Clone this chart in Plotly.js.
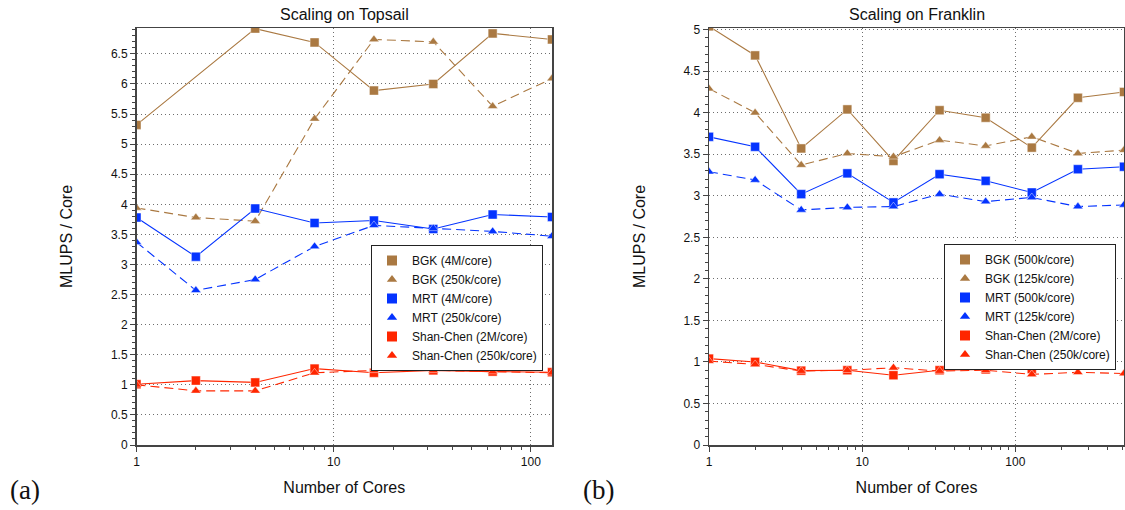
<!DOCTYPE html>
<html>
<head>
<meta charset="utf-8">
<script src="https://cdn.plot.ly/plotly-3.0.1.min.js"></script>
<style>
  html, body { margin: 0; padding: 0; background: #fff; }
  #chart { width: 1125px; height: 510px; }
</style>
</head>
<body>
<div id="chart"></div>
<script>
// ---- Topsail (panel a) ----
const coresTopsail = [1, 2, 4, 8, 16, 32, 64, 128];
const bgk4M       = [5.32, null, 6.92, 6.69, 5.89, 6.00, 6.84, 6.74];
const bgk250kA    = [3.94, 3.78, 3.72, 5.42, 6.74, 6.70, 5.63, 6.09];
const mrt4M       = [3.78, 3.13, 3.93, 3.69, 3.73, 3.59, 3.83, 3.79];
const mrt250kA    = [3.37, 2.57, 2.75, 3.30, 3.65, 3.60, 3.55, 3.47];
const shanChen2MA = [1.01, 1.07, 1.04, 1.27, 1.20, 1.24, 1.22, 1.21];
const shanChen250kA = [1.00, 0.90, 0.90, 1.20, 1.24, 1.24, 1.22, 1.20];
const legendTopsail = ['BGK (4M/core)', 'BGK (250k/core)', 'MRT (4M/core)',
                       'MRT (250k/core)', 'Shan-Chen (2M/core)', 'Shan-Chen (250k/core)'];

// ---- Franklin (panel b) ----
const coresFranklin = [1, 2, 4, 8, 16, 32, 64, 128, 256, 512];
const bgk500k     = [5.04, 4.69, 3.57, 4.04, 3.42, 4.03, 3.94, 3.58, 4.18, 4.25];
const bgk125k     = [4.29, 4.00, 3.37, 3.51, 3.47, 3.67, 3.60, 3.71, 3.51, 3.55];
const mrt500k     = [3.71, 3.59, 3.02, 3.27, 2.92, 3.26, 3.18, 3.04, 3.32, 3.35];
const mrt125k     = [3.29, 3.19, 2.83, 2.86, 2.87, 3.02, 2.93, 2.98, 2.87, 2.89];
const shanChen2MB = [1.04, 1.00, 0.895, 0.90, 0.84, 0.90, 0.91, 0.915, null, null];
const shanChen250kB = [1.01, 0.97, 0.89, 0.90, 0.93, 0.89, 0.90, 0.85, 0.875, 0.86];
const legendFranklin = ['BGK (500k/core)', 'BGK (125k/core)', 'MRT (500k/core)',
                        'MRT (125k/core)', 'Shan-Chen (2M/core)', 'Shan-Chen (250k/core)'];

const BROWN = '#AA7942', BLUE = '#0433FF', RED = '#FF2600';
const FONT = 'Liberation Sans, Arial, Helvetica, sans-serif';

// style of each series: colour, marker symbol, dashed or solid
const styles = [
  {color: BROWN, symbol: 'square',       dash: 'solid'},
  {color: BROWN, symbol: 'triangle-up',  dash: '9px,5px'},
  {color: BLUE,  symbol: 'square',       dash: 'solid'},
  {color: BLUE,  symbol: 'triangle-up',  dash: '9px,5px'},
  {color: RED,   symbol: 'square',       dash: 'solid'},
  {color: RED,   symbol: 'triangle-up',  dash: '9px,5px'}
];

function seriesTraces(xs, ys, names, xa, ya, legendId) {
  const out = [];
  ys.forEach((y, i) => {
    const s = styles[i];
    out.push({
      type: 'scatter', mode: 'lines+markers', x: xs, y: y,
      xaxis: xa, yaxis: ya, connectgaps: true, showlegend: false,
      name: names[i], hoverinfo: 'x+y+name',
      line: {color: s.color, width: 1.1, dash: s.dash},
      marker: {symbol: s.symbol, color: s.color, size: 9,
               line: {width: 1, color: 'rgba(255,255,255,0.45)'}}
    });
  });
  // legend entries show the marker only
  names.forEach((n, i) => {
    const s = styles[i];
    out.push({
      type: 'scatter', mode: 'markers', x: [null], y: [null],
      xaxis: xa, yaxis: ya, name: n, legend: legendId, showlegend: true,
      marker: {symbol: s.symbol, color: s.color, size: s.symbol === 'square' ? 10 : 9}
    });
  });
  return out;
}

const data = [].concat(
  seriesTraces(coresTopsail, [bgk4M, bgk250kA, mrt4M, mrt250kA, shanChen2MA, shanChen250kA],
               legendTopsail, 'x', 'y', 'legend'),
  seriesTraces(coresFranklin, [bgk500k, bgk125k, mrt500k, mrt125k, shanChen2MB, shanChen250kB],
               legendFranklin, 'x2', 'y2', 'legend2')
);

const minorA = [2,3,4,5,6,7,8,9,20,30,40,50,60,70,80,90];
const minorB = minorA.concat([200,300,400,500]);

const GRID = {showgrid: true, gridcolor: '#6e6e6e', griddash: '1px,3px', gridwidth: 1};

function xAxis(domain, maxCores, minorVals, anchor) {
  return Object.assign({
    type: 'log', domain: domain, anchor: anchor,
    range: [0, Math.log10(maxCores)],
    tickvals: [1, 10, 100], ticktext: ['1', '10', '100'],
    ticks: 'outside', ticklen: 5, tickcolor: '#444', tickwidth: 1,
    tickfont: {family: FONT, size: 12, color: '#111'},
    showline: true, mirror: true, linecolor: '#444', linewidth: 1.5,
    zeroline: false,
    minor: {tickvals: minorVals, ticks: 'outside', ticklen: 3, tickcolor: '#444', showgrid: false},
    title: {text: 'Number of Cores', standoff: 14, font: {family: FONT, size: 16, color: '#111'}}
  }, GRID);
}

function yAxis(domain, top, anchor) {
  return Object.assign({
    domain: domain, anchor: anchor, range: [0, top],
    tick0: 0, dtick: 0.5,
    ticks: 'outside', ticklen: 5, tickcolor: '#444', tickwidth: 1,
    tickfont: {family: FONT, size: 12, color: '#111'},
    showline: true, mirror: true, linecolor: '#444', linewidth: 1.5,
    zeroline: false,
    minor: {dtick: 0.1, ticks: 'outside', ticklen: 3, tickcolor: '#444', showgrid: false},
    title: {text: 'MLUPS / Core', standoff: 34, font: {family: FONT, size: 16, color: '#111'}}
  }, GRID);
}

const yDom = [65 / 510, 482 / 510];

const legendStyle = (x, y) => ({
  x: x, y: y, xanchor: 'left', yanchor: 'top',
  bgcolor: '#fff', bordercolor: '#222', borderwidth: 1,
  font: {family: FONT, size: 12, color: '#111'},
  tracegroupgap: 0
});

const layout = {
  width: 1125, height: 510,
  margin: {l: 0, r: 0, t: 0, b: 0},
  paper_bgcolor: '#fff', plot_bgcolor: '#fff',
  showlegend: true,
  xaxis: xAxis([136.5 / 1125, 552 / 1125], 128, minorA, 'y'),
  yaxis: yAxis(yDom, 6.93, 'x'),
  xaxis2: xAxis([709 / 1125, 1124 / 1125], 512, minorB, 'y2'),
  yaxis2: yAxis(yDom, 5.02, 'x2'),
  legend: legendStyle(371 / 1125, (510 - 245) / 510),
  legend2: legendStyle(944 / 1125, (510 - 244) / 510),
  annotations: [
    {text: 'Scaling on Topsail', xref: 'paper', yref: 'paper', x: 344 / 1125, y: (510 - 14) / 510,
     xanchor: 'center', yanchor: 'middle', showarrow: false, font: {family: FONT, size: 16, color: '#111'}},
    {text: 'Scaling on Franklin', xref: 'paper', yref: 'paper', x: 916.5 / 1125, y: (510 - 14) / 510,
     xanchor: 'center', yanchor: 'middle', showarrow: false, font: {family: FONT, size: 16, color: '#111'}},
    {text: '(a)', xref: 'paper', yref: 'paper', x: 25 / 1125, y: (510 - 490) / 510,
     xanchor: 'center', yanchor: 'middle', showarrow: false,
     font: {family: 'Liberation Serif, DejaVu Serif, serif', size: 27, color: '#111'}},
    {text: '(b)', xref: 'paper', yref: 'paper', x: 598 / 1125, y: (510 - 490) / 510,
     xanchor: 'center', yanchor: 'middle', showarrow: false,
     font: {family: 'Liberation Serif, DejaVu Serif, serif', size: 27, color: '#111'}}
  ]
};

Plotly.newPlot('chart', data, layout, {staticPlot: true, displayModeBar: false});
</script>
</body>
</html>
